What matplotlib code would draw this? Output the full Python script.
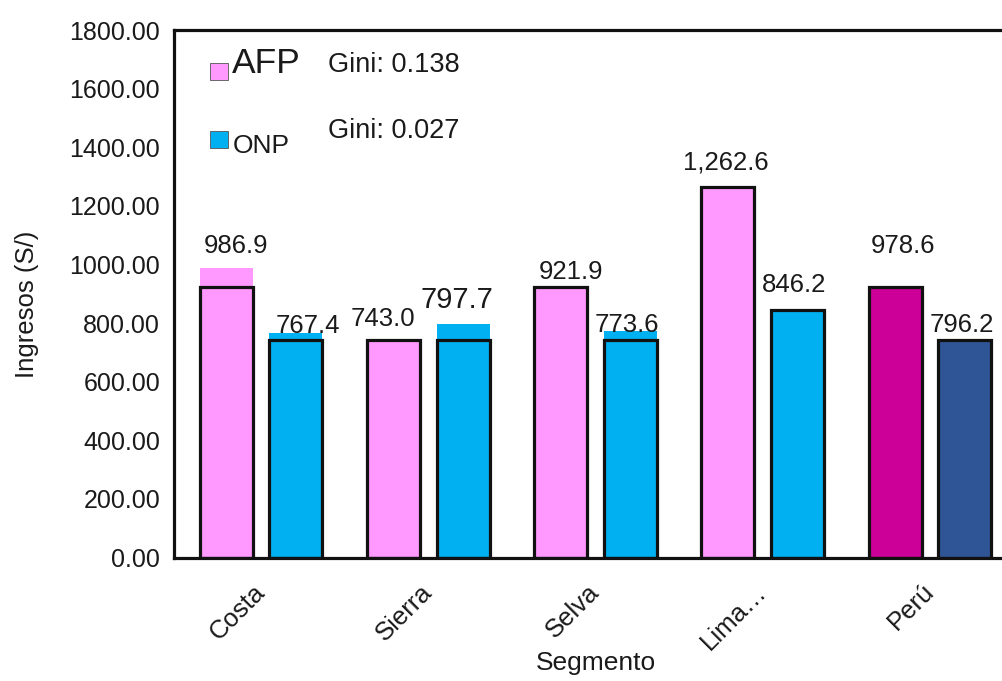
import matplotlib
matplotlib.use("Agg")
import matplotlib.pyplot as plt
from matplotlib.patches import Rectangle
import numpy as np

plt.rcParams['font.family'] = ['Liberation Sans', 'DejaVu Sans']

# ---- data ----
categories = ["Costa", "Sierra", "Selva", "Lima\u2026", "Perú"]
afp_values = [986.9, 743.0, 921.9, 1262.6, 978.6]
onp_values = [767.4, 797.7, 773.6, 846.2, 796.2]
# heights of the coloured fill and of the black outline as rendered
afp_fill = [986.9, 743.0, 921.9, 1262.6, 921.9]
onp_fill = [767.4, 797.7, 773.6, 846.2, 743.0]
afp_outline = [921.9, 743.0, 921.9, 1262.6, 921.9]
onp_outline = [743.0, 743.0, 743.0, 846.2, 743.0]
afp_labels = ["986.9", "743.0", "921.9", "1,262.6", "978.6"]
onp_labels = ["767.4", "797.7", "773.6", "846.2", "796.2"]
yticks = [0, 200, 400, 600, 800, 1000, 1200, 1400, 1600, 1800]
gini_afp = "Gini: 0.138"
gini_onp = "Gini: 0.027"

# ---- styling ----
afp_colors = ["#FF99FF", "#FF99FF", "#FF99FF", "#FF99FF", "#CC0099"]
onp_colors = ["#00B0F0", "#00B0F0", "#00B0F0", "#00B0F0", "#2F5597"]
# label offsets (pixels) relative to bar centre / value
afp_dx = [10, -11, 10, -2, 8]
afp_dy = [15.6, 13.8, 8, 17.5, 17.4]
onp_dx = [12, -6, -3, -3, -3]
onp_dy = [-0.4, 15.7, -0.9, 17.8, -7.5]
onp_fs = [18.5, 21, 18.5, 18.5, 18.5]

W, H = 1002, 681
fig = plt.figure(figsize=(W / 100, H / 100), dpi=100)
ax_l, ax_r, ax_t, ax_b = 174, 1017, 30, 557.5
ax = fig.add_axes([ax_l / W, 1 - ax_b / H, (ax_r - ax_l) / W, (ax_b - ax_t) / H])
ax.patch.set_visible(False)

x = np.arange(len(categories))
bw = 0.317
off = 0.208

ax.bar(x - off, afp_fill, bw, color=afp_colors, linewidth=0, zorder=2)
ax.bar(x + off, onp_fill, bw, color=onp_colors, linewidth=0, zorder=2)
ax.bar(x - off, afp_outline, bw, facecolor="none", edgecolor="#111111", linewidth=2.3, zorder=3)
ax.bar(x + off, onp_outline, bw, facecolor="none", edgecolor="#111111", linewidth=2.3, zorder=3)

px = 0.72  # points per pixel
for i in range(len(categories)):
    ax.annotate(afp_labels[i], (x[i] - off, afp_values[i]), xytext=(afp_dx[i] * px, afp_dy[i] * px),
                textcoords="offset points", ha="center", va="baseline", fontsize=18.5, color="#1a1a1a", zorder=4)
    ax.annotate(onp_labels[i], (x[i] + off, onp_values[i]), xytext=(onp_dx[i] * px, onp_dy[i] * px),
                textcoords="offset points", ha="center", va="baseline", fontsize=onp_fs[i], color="#1a1a1a", zorder=4)

ax.set_xlim(-0.52, 4.52)
ax.set_ylim(0, 1800)
ax.set_yticks(yticks)
ax.set_yticklabels([f"{v:.2f}" for v in yticks], fontsize=18)
ax.set_xticks(x)
ax.set_xticklabels(categories, rotation=45, ha="right", va="center", rotation_mode="anchor", fontsize=18.5)
ax.tick_params(axis="both", length=0, colors="#1a1a1a")
ax.tick_params(axis="y", pad=10)
ax.tick_params(axis="x", pad=22)

for s in ["left", "top", "bottom"]:
    ax.spines[s].set_linewidth(2.3)
    ax.spines[s].set_color("#111111")
ax.spines["right"].set_visible(False)

ax.set_ylabel("Ingresos (S/)", fontsize=18.5, color="#1a1a1a")
ax.yaxis.set_label_coords(-0.16, 0.48)
ax.set_xlabel("Segmento", fontsize=19, color="#1a1a1a")
ax.xaxis.set_label_coords(0.5, -0.178)

# legend (manual)
def fx(p):
    return p / W

def fy(p):
    return 1 - p / H

fig.patches.append(Rectangle((fx(210), fy(80)), 18 / W, 17 / H, transform=fig.transFigure,
                             facecolor=afp_colors[0], edgecolor="#555555", linewidth=0.6))
fig.patches.append(Rectangle((fx(210), fy(148)), 18 / W, 17 / H, transform=fig.transFigure,
                             facecolor=onp_colors[0], edgecolor="#555555", linewidth=0.6))
fig.text(fx(232), fy(73), "AFP", fontsize=25.5, va="baseline", ha="left", color="#1a1a1a")
fig.text(fx(233), fy(153), "ONP", fontsize=19, va="baseline", ha="left", color="#1a1a1a")
fig.text(fx(328), fy(71.5), gini_afp, fontsize=19.5, va="baseline", ha="left", color="#1a1a1a")
fig.text(fx(328), fy(138), gini_onp, fontsize=19.5, va="baseline", ha="left", color="#1a1a1a")

fig.savefig("out.png", dpi=100)
